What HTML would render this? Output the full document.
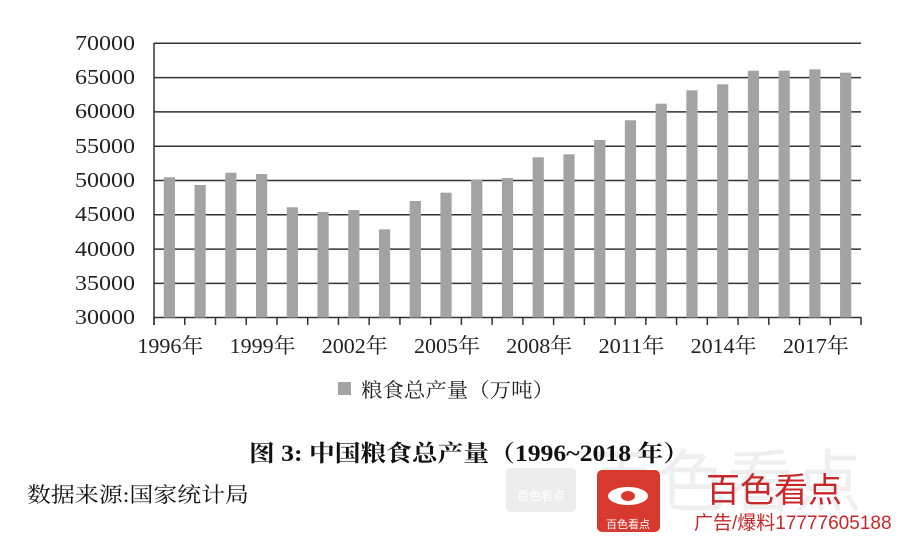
<!DOCTYPE html>
<html><head><meta charset="utf-8"><style>
body{margin:0;background:#fff;width:900px;height:536px;overflow:hidden;position:relative;font-family:"Liberation Serif","Noto Serif CJK SC",serif;}
</style></head><body>
<svg width="900" height="536" style="position:absolute;left:0;top:0">
<g stroke="#333" stroke-width="1.5">
<line x1="154" y1="43.3" x2="861" y2="43.3"/><line x1="154" y1="77.6" x2="861" y2="77.6"/>
<line x1="154" y1="111.9" x2="861" y2="111.9"/><line x1="154" y1="146.2" x2="861" y2="146.2"/>
<line x1="154" y1="180.5" x2="861" y2="180.5"/><line x1="154" y1="214.8" x2="861" y2="214.8"/>
<line x1="154" y1="249.1" x2="861" y2="249.1"/><line x1="154" y1="283.4" x2="861" y2="283.4"/>
<line x1="154" y1="317.5" x2="861" y2="317.5"/>
<line x1="154" y1="43" x2="154" y2="325"/>
</g>
<g stroke="#333" stroke-width="1.5" id="ticks"></g>
<g fill="#a3a3a3" id="bars"></g>
<g font-size="21" fill="#222" text-anchor="end" font-family="Liberation Serif,serif">
<text x="135" y="50" textLength="60" lengthAdjust="spacingAndGlyphs">70000</text><text x="135" y="84" textLength="60" lengthAdjust="spacingAndGlyphs">65000</text><text x="135" y="118" textLength="60" lengthAdjust="spacingAndGlyphs">60000</text>
<text x="135" y="153" textLength="60" lengthAdjust="spacingAndGlyphs">55000</text><text x="135" y="187" textLength="60" lengthAdjust="spacingAndGlyphs">50000</text><text x="135" y="221" textLength="60" lengthAdjust="spacingAndGlyphs">45000</text>
<text x="135" y="256" textLength="60" lengthAdjust="spacingAndGlyphs">40000</text><text x="135" y="290" textLength="60" lengthAdjust="spacingAndGlyphs">35000</text><text x="135" y="324" textLength="60" lengthAdjust="spacingAndGlyphs">30000</text>
</g>
<g font-size="21" fill="#222" text-anchor="middle" id="xl"></g>
<rect x="338" y="382" width="13" height="13" fill="#a3a3a3"/>
<text x="361" y="397" font-size="20" fill="#222" textLength="193" lengthAdjust="spacingAndGlyphs">粮食总产量（万吨）</text>
<text x="249" y="461" font-size="23" font-weight="bold" fill="#111" textLength="440" lengthAdjust="spacingAndGlyphs">图 3: 中国粮食总产量（1996~2018 年）</text>
<text x="27" y="502" font-size="21" fill="#111" textLength="222" lengthAdjust="spacingAndGlyphs">数据来源:国家统计局</text>
<text x="590" y="506" font-size="68" fill="#000" opacity="0.06" font-family="Liberation Sans,Noto Sans CJK SC,sans-serif">百色看点</text>
<rect x="506" y="468" width="70" height="44" rx="4" fill="#ccc" opacity="0.35"/>
<text x="541" y="500" font-size="12" fill="#fff" text-anchor="middle" font-family="Noto Sans CJK SC,sans-serif">百色看点</text>
<rect x="597" y="470" width="63" height="62" rx="5" fill="#d8392e"/>
<ellipse cx="628" cy="496" rx="20" ry="9" fill="#fff"/><ellipse cx="628" cy="496" rx="7" ry="5" fill="#d8392e"/>
<text x="628" y="528" font-size="11" fill="#fff" text-anchor="middle" font-family="Noto Sans CJK SC,sans-serif">百色看点</text>
<text x="706" y="502" font-size="34" fill="#c8282a" font-family="Noto Sans CJK SC,sans-serif">百色看点</text>
<text x="694" y="529" font-size="19" fill="#c8282a" font-family="Liberation Sans,Noto Sans CJK SC,sans-serif">广告/爆料17777605188</text>
</svg>
<script>
var tops=[177.3,185,172.7,174,207.3,212,210,229.3,201,192.7,179.7,178,157.3,154.3,140,120.3,103.7,90.3,84.3,70.7,70.7,69.3,72.7];
var b='',t='',l='';var s=30.74;
for(var i=0;i<23;i++){var c=154+s*(i+0.5);b+='<rect x="'+(c-5.6)+'" y="'+tops[i]+'" width="11.2" height="'+(317.5-tops[i])+'"/>';}
for(var i=0;i<=23;i++){var x=154+s*i;t+='<line x1="'+x+'" y1="317" x2="'+x+'" y2="325"/>';}
for(var i=0;i<23;i+=3){var c=154+s*(i+0.5);l+='<text x="'+(c+1)+'" y="353" textLength="66" lengthAdjust="spacingAndGlyphs">'+(1996+i)+'年</text>';}
document.getElementById('bars').innerHTML=b;document.getElementById('ticks').innerHTML=t;document.getElementById('xl').innerHTML=l;
</script>
</body></html>
